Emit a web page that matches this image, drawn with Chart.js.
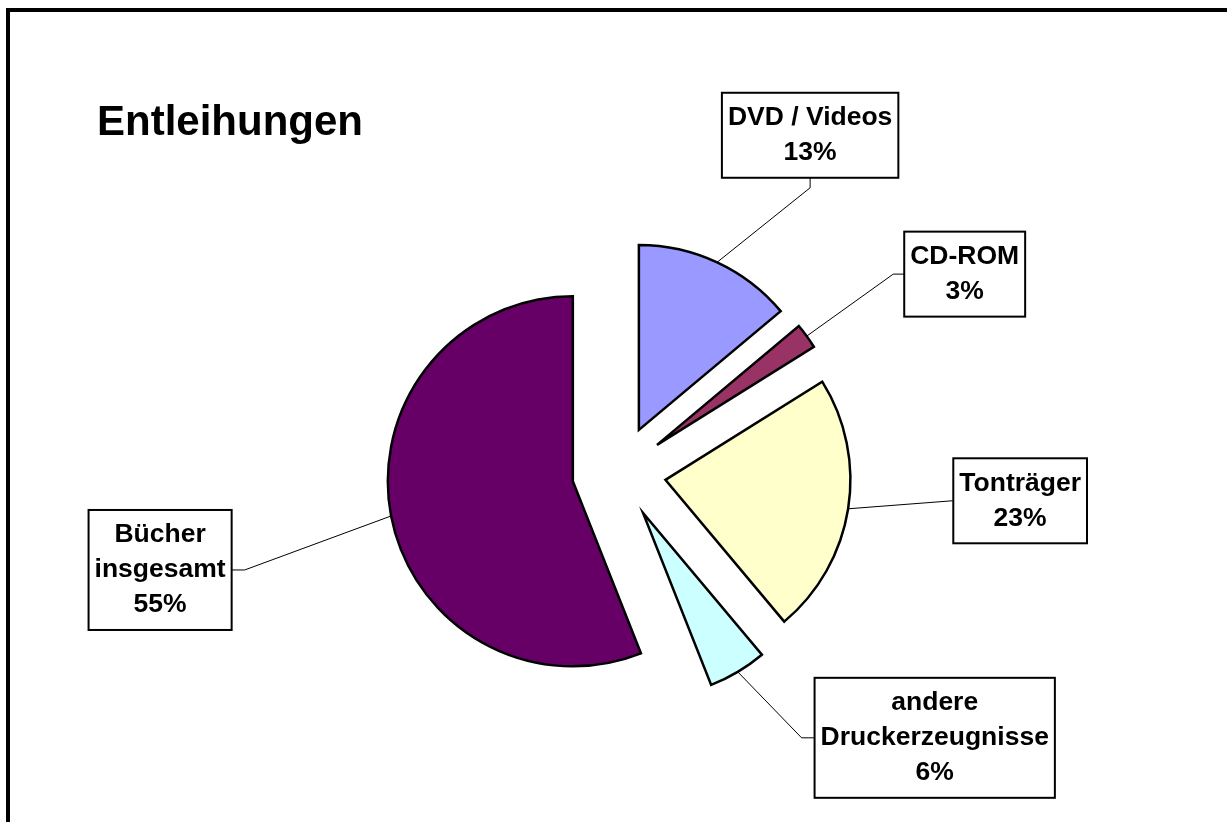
<!doctype html>
<html lang="de">
<head>
  <meta charset="utf-8" />
  <title>Entleihungen</title>
  <script src="https://cdn.jsdelivr.net/npm/chart.js"></script>
  <style>
    html, body { margin: 0; padding: 0; background: #fff; overflow: hidden; }
    #wrap { position: relative; width: 1227px; height: 822px; }
    #pie { display: block; }
    .frame { position: absolute; left: 6px; top: 8px; width: 1300px; height: 900px;
             border-left: 4px solid #000; border-top: 4px solid #000; pointer-events: none; }
  </style>
</head>
<body>
  <div id="wrap">
    <canvas id="pie" width="1227" height="822"></canvas>
    <div class="frame"></div>
  </div>
  <script>
    // slice order clockwise from 12 o'clock
    const categories = ['DVD / Videos', 'CD-ROM', 'Tonträger', 'andere Druckerzeugnisse', 'Bücher insgesamt'];
    const labelLines = [['DVD / Videos'], ['CD-ROM'], ['Tonträger'], ['andere', 'Druckerzeugnisse'], ['Bücher', 'insgesamt']];
    const shares = [13.9, 2.2, 22.8, 5.1, 56.0];
    const percentLabels = ['13%', '3%', '23%', '6%', '55%'];
    const colors = ['#9999ff', '#993366', '#ffffcc', '#ccffff', '#660066'];

    // label box placement relative to the point where the leader meets the slice
    const labelShift = [[93, -127], [158, -62], [172, -8], [197, 66], [-231, 54]];
    const labelAttach = ['bottom', 'left', 'left', 'left', 'right'];
    const stubLength = [10, 11, 1, 13, 13];
    const explodeDistance = 47;
    const labelFont = 'bold 26.5px "Liberation Sans", Arial, sans-serif';
    const lineHeight = 35;

    const explode = {
      id: 'explode',
      afterDatasetUpdate(chart, args) {
        args.meta.data.forEach((arc) => {
          const mid = (arc.startAngle + arc.endAngle) / 2;
          arc.x += Math.cos(mid) * explodeDistance;
          arc.y += Math.sin(mid) * explodeDistance;
        });
      },
    };

    const calloutLabels = {
      id: 'calloutLabels',
      afterDatasetsDraw(chart) {
        const ctx = chart.ctx;
        const arcs = chart.getDatasetMeta(0).data;
        ctx.save();

        ctx.fillStyle = '#000';
        ctx.font = 'bold 42px "Liberation Sans", Arial, sans-serif';
        ctx.textAlign = 'left';
        ctx.textBaseline = 'alphabetic';
        ctx.fillText('Entleihungen', 97, 135);

        ctx.font = labelFont;
        arcs.forEach((arc, i) => {
          const mid = (arc.startAngle + arc.endAngle) / 2;
          const px = arc.x + Math.cos(mid) * arc.outerRadius;
          const py = arc.y + Math.sin(mid) * arc.outerRadius;
          const lines = [...labelLines[i], percentLabels[i]];
          const w = Math.max(...lines.map((t) => ctx.measureText(t).width)) + 12;
          const h = lines.length * lineHeight + 15;
          const cx = px + labelShift[i][0];
          const cy = py + labelShift[i][1];
          const left = cx - w / 2;
          const top = cy - h / 2;

          let ax = left, ay = cy, sx = left - stubLength[i], sy = cy;
          if (labelAttach[i] === 'bottom') {
            ax = cx; ay = top + h; sx = cx; sy = ay + stubLength[i];
          } else if (labelAttach[i] === 'right') {
            ax = left + w; sx = ax + stubLength[i];
          }
          ctx.strokeStyle = '#000';
          ctx.lineWidth = 1;
          ctx.beginPath();
          ctx.moveTo(px, py);
          ctx.lineTo(sx, sy);
          ctx.lineTo(ax, ay);
          ctx.stroke();

          ctx.fillStyle = '#fff';
          ctx.fillRect(left, top, w, h);
          ctx.lineWidth = 2;
          ctx.strokeRect(left, top, w, h);

          ctx.fillStyle = '#000';
          ctx.textAlign = 'center';
          ctx.textBaseline = 'middle';
          lines.forEach((t, k) => {
            ctx.fillText(t, cx, top + 7.5 + lineHeight / 2 + k * lineHeight);
          });
        });
        ctx.restore();
      },
    };

    new Chart(document.getElementById('pie'), {
      type: 'pie',
      plugins: [explode, calloutLabels],
      data: {
        labels: categories,
        datasets: [{
          data: shares,
          backgroundColor: colors,
          borderColor: '#000',
          borderWidth: 2.5,
          borderJoinStyle: 'miter',
        }],
      },
      options: {
        responsive: false,
        animation: false,
        events: [],
        radius: 185,
        layout: { padding: { left: 111, right: 100, top: 223, bottom: 100 } },
        plugins: {
          legend: { display: false },
          tooltip: { enabled: false },
          title: { display: false },
        },
      },
    });
  </script>
</body>
</html>
